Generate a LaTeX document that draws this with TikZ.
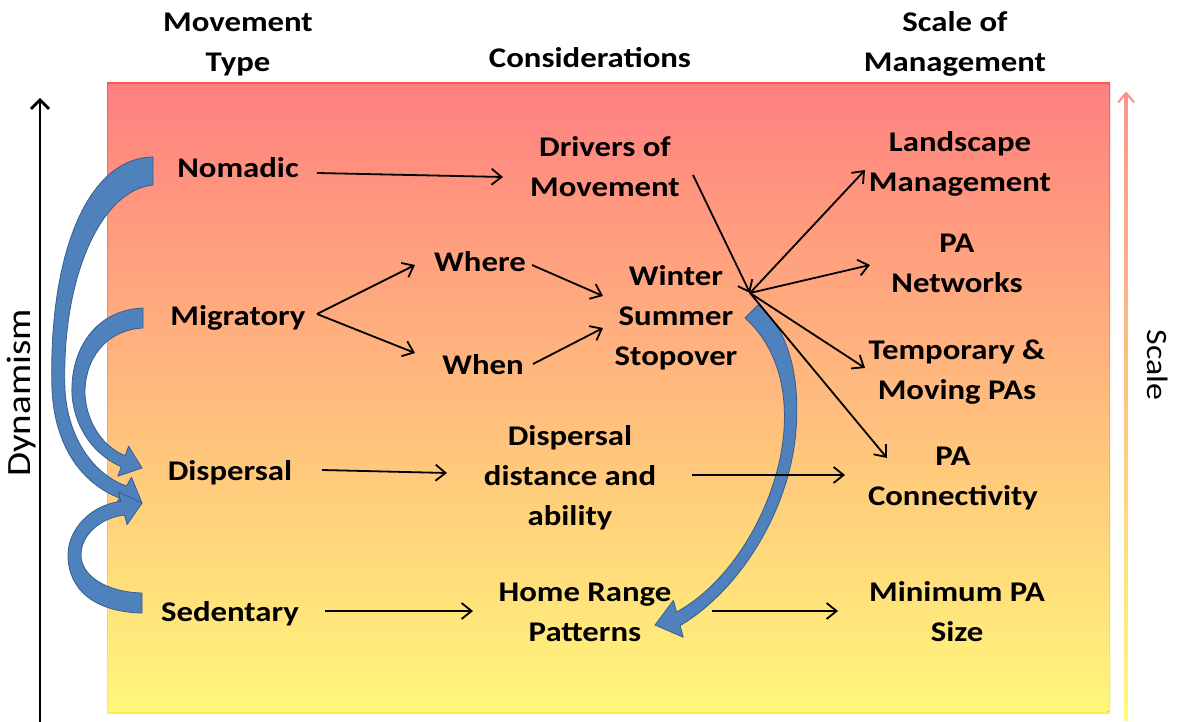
\documentclass[tikz,border=0pt]{standalone}
\usepackage{fontspec}
\setmainfont{Carlito}[FakeStretch=1.15]
\usetikzlibrary{arrows.meta,calc}
\definecolor{arrowblue}{RGB}{79,129,189}
\definecolor{arrowedge}{RGB}{56,93,138}
\definecolor{bgtop}{RGB}{255,128,128}
\definecolor{bgmid}{RGB}{252,186,130}
\definecolor{bgbot}{RGB}{255,247,122}
\definecolor{edtop}{RGB}{255,85,85}
\definecolor{edmid}{RGB}{250,160,90}
\definecolor{edbot}{RGB}{255,235,90}
\definecolor{scaletop}{RGB}{248,150,140}
\definecolor{scalebot}{RGB}{255,250,120}
\begin{document}
\begin{tikzpicture}[x=1pt,y=-1pt,
  lbl/.style={font=\bfseries\fontsize{28.5}{40}\selectfont, align=center, inner sep=0pt, text depth=0pt},
  conn/.style={-{Straight Barb[length=10pt,width=16pt]}, line width=1.8pt},
  blk/.style={fill=arrowblue, draw=arrowedge, line width=0.8pt, line join=round},
  axislbl/.style={font=\fontsize{30}{34}\selectfont, inner sep=0pt}]
\useasboundingbox (0,0) rectangle (1177,722);

% background panel
\fill[top color=edtop, middle color=edmid, bottom color=edbot] (107,83) rectangle (1110,713);
\fill[top color=bgtop, middle color=bgmid, bottom color=bgbot] (108.5,84.5) rectangle (1108.5,711.5);

% axes
\draw[line width=2.8pt, -{Straight Barb[length=9pt,width=18pt]}] (40,722) -- (40,98);
\shade[top color=scaletop, bottom color=scalebot] (1124.7,95) rectangle (1127.5,720);
\draw[scaletop, line width=2.2pt, line cap=round, line join=round] (1118.5,102) -- (1126.1,93) -- (1133.7,102);
\node[axislbl, rotate=90, font=\fontsize{34}{36}\selectfont] (dyn) at (22,393) {Dynamism};
\node[axislbl, rotate=-90, font=\fontsize{29.5}{32}\selectfont] (scl) at (1158,365) {Scale};

% headers
\node[lbl] (h1) at (238,42) {Movement\\Type};
\node[lbl] (h2) at (590,57) {Considerations};
\node[lbl] (h3) at (955,42) {Scale of\\Management};

% blue block arrows
\path[blk] (153,157) .. controls (85,158) and (48,260) .. (52,390) .. controls (55,450) and (85,485) .. (119.5,498) -- (114.5,506.7) -- (142,503) -- (131.5,477.3) -- (126.5,486) .. controls (95,475) and (68,440) .. (65,390) .. controls (61,280) and (100,190) .. (153,185) -- cycle;
\path[blk] (143,308) .. controls (95,310) and (70,350) .. (72,395) .. controls (75,430) and (95,455) .. (121.2,466.8) -- (117.8,476.2) -- (142,468) -- (128.6,446.2) -- (125.2,455.6) .. controls (105,448) and (87,425) .. (85,395) .. controls (84,360) and (105,330) .. (143,328) -- cycle;
\path[blk] (142,613) .. controls (95,612) and (68,590) .. (68,555) .. controls (68,530) and (90,505) .. (120.9,501.4) -- (118.3,491.8) -- (142,503) -- (127.1,524.6) -- (124.5,515) .. controls (100,518) and (81,535) .. (81,555) .. controls (81,575) and (105,592) .. (142,593) -- cycle;
\path[blk] (758,305) .. controls (790,330) and (800,380) .. (796,430) .. controls (790,510) and (740,590) .. (680.1,625.6) -- (683.2,637.2) -- (655,625) -- (673.4,600.4) -- (676.5,612) .. controls (735,580) and (779,500) .. (784,430) .. controls (787,385) and (775,345) .. (745,318) -- cycle;

% nodes
\node[lbl] (nomadic) at (238,168) {Nomadic};
\node[lbl] (migratory) at (238,315) {Migratory};
\node[lbl] (dispersal) at (230,470) {Dispersal};
\node[lbl] (sedentary) at (230,611) {Sedentary};
\node[lbl] (drivers) at (605,167) {Drivers of\\Movement};
\node[lbl] (where) at (480,262) {Where};
\node[lbl] (when) at (483,364) {When};
\node[lbl] (wss) at (676,315) {Winter\\Summer\\Stopover};
\node[lbl] (ddist) at (570,475) {Dispersal\\distance and\\ability};
\node[lbl] (home) at (585,612) {Home Range\\Patterns};
\node[lbl] (land) at (960,162) {Landscape\\Management};
\node[lbl] (panet) at (957,263) {PA\\Networks};
\node[lbl] (temp) at (957,370) {Temporary \&\\Moving PAs};
\node[lbl] (pacon) at (953,476) {PA\\Connectivity};
\node[lbl] (minpa) at (957,611) {Minimum PA\\Size};
\coordinate (hub) at (750,293);

% connectors
\draw[conn] ($(nomadic)+(79,5)$) -- ($(drivers)+(-102,10)$);
\draw[conn] ($(migratory)+(79,-1)$) -- ($(where)+(-65,3)$);
\draw[conn] ($(migratory)+(79,-1)$) -- ($(when)+(-68,-11)$);
\draw[conn] ($(where)+(52,3)$) -- ($(wss)+(-73,-19)$);
\draw[conn] ($(when)+(50,0)$) -- ($(wss)+(-73,13)$);
\draw[conn] ($(drivers)+(88,8)$) -- (hub);
\draw[conn] (hub) -- ($(land)+(-95,8)$);
\draw[conn] (hub) -- ($(panet)+(-87,2)$);
\draw[conn] (hub) -- ($(temp)+(-92,-2)$);
\draw[conn] (hub) -- ($(pacon)+(-66,-18)$);
\draw[conn] ($(dispersal)+(92,0)$) -- ($(ddist)+(-123,-2)$);
\draw[conn] ($(ddist)+(122,0)$) -- ($(pacon)+(-108,-1)$);
\draw[conn] ($(sedentary)+(95,0)$) -- ($(home)+(-112,-1)$);
\draw[conn] ($(home)+(127,-1)$) -- ($(minpa)+(-119,0)$);
\end{tikzpicture}
\end{document}
